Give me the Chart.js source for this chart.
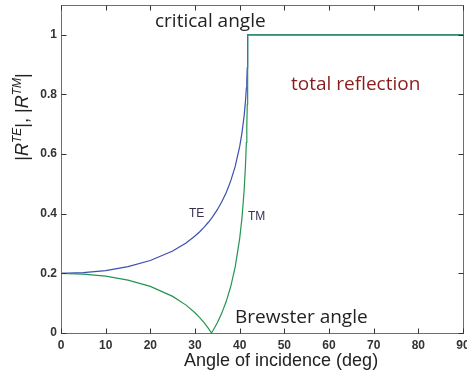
<!DOCTYPE html>
<html>
<head>
<meta charset="utf-8">
<script src="https://cdn.jsdelivr.net/npm/chart.js@4.4.1/dist/chart.umd.min.js"></script>
<style>
  html, body { margin: 0; padding: 0; background: #fff; }
  #wrap { width: 467px; height: 376px; }
</style>
</head>
<body>
<div id="wrap"><canvas id="fresnel" width="467" height="376"></canvas></div>
<script>
  // incidence angles (deg), glass -> air
  const angles = [0, 5, 10, 15, 20, 25, 28, 30, 31, 32, 33, 33.69, 34, 35, 36, 37, 38, 39, 40, 40.5, 41, 41.3, 41.5, 41.6, 41.7, 41.75, 41.8, 41.81, 90];
  const rTE = [0.2, 0.2023, 0.2095, 0.2225, 0.2430, 0.2748, 0.3020, 0.3252, 0.3389, 0.3541, 0.3714, 0.3846, 0.3910, 0.4136, 0.4401, 0.4715, 0.5100, 0.5587, 0.6249, 0.6695, 0.7287, 0.7775, 0.8216, 0.8506, 0.8894, 0.9169, 0.9649, 1, 1];
  const rTM = [0.2, 0.1977, 0.1905, 0.1773, 0.1562, 0.1228, 0.0935, 0.0679, 0.0526, 0.0353, 0.0155, 0, 0.0075, 0.0345, 0.0667, 0.1062, 0.1559, 0.2217, 0.3163, 0.3837, 0.4781, 0.5605, 0.6389, 0.6926, 0.7672, 0.8223, 0.9226, 1, 1];
  const xTicks = [0, 10, 20, 30, 40, 50, 60, 70, 80, 90];
  const yTicks = [0, 0.2, 0.4, 0.6, 0.8, 1];

  const pts = ys => angles.map((a, i) => ({ x: a, y: ys[i] }));
  const tickFont = { family: 'Liberation Sans, Arial, sans-serif', size: 12, weight: 'bold' };

  // box frame, inward ticks on all four sides, and the text labels
  const decor = {
    id: 'decor',
    afterDraw(chart) {
      const ctx = chart.ctx;
      const a = chart.chartArea;
      const xs = chart.scales.x, ys = chart.scales.y;
      const L = Math.round(a.left) + 0.5, R = Math.round(a.right) + 0.5;
      const T = Math.round(a.top) + 0.5, B = Math.round(a.bottom) + 0.5;
      ctx.save();
      ctx.strokeStyle = '#6e6e6e';
      ctx.lineWidth = 1;
      ctx.strokeRect(L, T, R - L, B - T);
      ctx.strokeStyle = '#333';
      ctx.beginPath();
      xTicks.forEach(v => {
        const px = Math.round(xs.getPixelForValue(v)) + 0.5;
        ctx.moveTo(px, B); ctx.lineTo(px, B - 5);
        ctx.moveTo(px, T); ctx.lineTo(px, T + 5);
      });
      yTicks.forEach(v => {
        const py = Math.round(ys.getPixelForValue(v)) + 0.5;
        ctx.moveTo(L, py); ctx.lineTo(L + 5, py);
        ctx.moveTo(R, py); ctx.lineTo(R - 5, py);
      });
      ctx.stroke();

      ctx.textBaseline = 'alphabetic';
      ctx.textAlign = 'left';
      ctx.fillStyle = '#222';
      ctx.font = '19px "Open Sans", sans-serif';
      ctx.fillText('critical angle', 155, 27);
      ctx.fillText('Brewster angle', 235, 323);
      ctx.fillStyle = '#8b1c1c';
      ctx.fillText('total reflection', 291, 90);

      ctx.fillStyle = '#3a3050';
      ctx.font = '12px "Liberation Sans", Arial, sans-serif';
      ctx.fillText('TE', 189, 217);
      ctx.fillText('TM', 248, 220);

      ctx.fillStyle = '#222';
      ctx.font = '18px "Liberation Sans", Arial, sans-serif';
      ctx.fillText('Angle of incidence (deg)', 184, 366);

      // y title with superscripts, rotated
      const parts = [
        ['|', '18px "Liberation Sans", Arial', 0],
        ['R', 'italic 18px "Liberation Sans", Arial', 0],
        ['TE', 'italic 12px "Liberation Sans", Arial', -7],
        ['|, |', '18px "Liberation Sans", Arial', 0],
        ['R', 'italic 18px "Liberation Sans", Arial', 0],
        ['TM', 'italic 12px "Liberation Sans", Arial', -7],
        ['|', '18px "Liberation Sans", Arial', 0]
      ];
      let total = 0;
      parts.forEach(p => { ctx.font = p[1]; total += ctx.measureText(p[0]).width; });
      ctx.translate(28, 117);
      ctx.rotate(-Math.PI / 2);
      let cx = -total / 2;
      parts.forEach(p => {
        ctx.font = p[1];
        ctx.fillText(p[0], cx, p[2]);
        cx += ctx.measureText(p[0]).width;
      });
      ctx.restore();
    }
  };

  new Chart(document.getElementById('fresnel'), {
    type: 'line',
    data: {
      datasets: [
        { label: 'TE', data: pts(rTE), borderColor: '#3a4fb0', borderWidth: 1.2, pointRadius: 0, order: 1 },
        { label: 'TM', data: pts(rTM), borderColor: '#239553', borderWidth: 1.2, pointRadius: 0, order: 0 }
      ]
    },
    options: {
      responsive: false,
      animation: false,
      layout: { padding: { top: 5, right: 4, left: 0, bottom: 0 } },
      plugins: { legend: { display: false }, tooltip: { enabled: false } },
      scales: {
        x: {
          type: 'linear', min: 0, max: 90,
          grid: { display: false, drawTicks: false },
          border: { display: false },
          ticks: { font: tickFont, color: '#333', padding: 5, maxRotation: 0 },
          afterBuildTicks: s => { s.ticks = xTicks.map(v => ({ value: v })); },
          afterFit: s => { s.height = 43; s.paddingLeft = 0; s.paddingRight = 0; }
        },
        y: {
          type: 'linear', min: 0, max: 1.1,
          grid: { display: false, drawTicks: false },
          border: { display: false },
          ticks: { font: tickFont, color: '#333', padding: 4, callback: v => String(v) },
          afterBuildTicks: s => { s.ticks = yTicks.map(v => ({ value: v })); },
          afterFit: s => { s.width = 61; s.paddingTop = 0; s.paddingBottom = 0; }
        }
      }
    },
    plugins: [decor]
  });
</script>
</body>
</html>
